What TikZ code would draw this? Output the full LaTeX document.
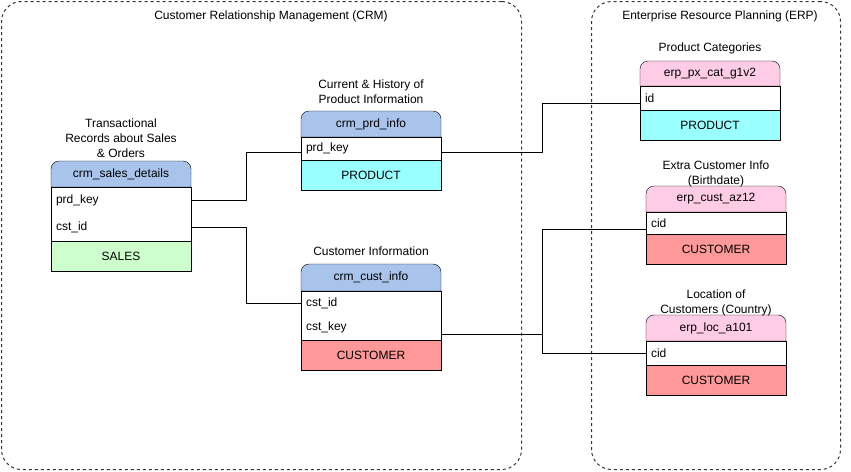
\documentclass[tikz,border=0pt]{standalone}
\usepackage{fontspec}
\setmainfont{Liberation Sans}
\usetikzlibrary{positioning,backgrounds}

\definecolor{hdrblue}{HTML}{A9C4EB}
\definecolor{hdrpink}{HTML}{FFCCE6}
\definecolor{prodcyan}{HTML}{99FFFF}
\definecolor{custred}{HTML}{FF9999}
\definecolor{salesgreen}{HTML}{CCFFCC}

\begin{document}
\begin{tikzpicture}[
        x=1pt, y=-1pt,
        font=\fontsize{12}{15}\selectfont,
        line width=1pt,
        % Estilos de los contenedores
        container/.style={
            draw=black!80,
            dash pattern=on 3pt off 3pt,
            rounded corners=20pt,
            anchor=north west,
            inner sep=0pt
        },
        % Estilos de las tablas
        tbl head/.style={
            minimum width=140pt,
            minimum height=26pt,
            inner sep=0pt,
            outer sep=0pt,
            anchor=north west
        },
        tbl row/.style={
            text width=130pt,
            align=left,
            inner xsep=5pt,
            inner ysep=0pt,
            outer sep=0pt
        },
        tbl foot/.style={
            draw,
            minimum width=140pt,
            minimum height=30pt,
            inner sep=0pt,
            outer sep=0pt
        },
        tbl label/.style={
            align=center,
            inner sep=2pt
        },
        wire/.style={
            draw=black
        }
    ]

    \useasboundingbox (0,0) rectangle (851,471);

    % --- CONTENEDORES ---
    \node[container, minimum width=520pt, minimum height=468pt] (crm) at (1,1) {};
    \node[container, minimum width=249pt, minimum height=468pt] (erp) at (591,1) {};
    \node (crmtitle) at (271,16) {Customer Relationship Management (CRM)};
    \node (erptitle) at (720,16) {Enterprise Resource Planning (ERP)};

    % --- TABLAS CRM ---
    % crm_sales_details
    \node[tbl head] (salesh) at (51,161) {crm\_sales\_details};
    \node[tbl row, minimum height=27pt, below=0pt of salesh] (salesprd) {prd\_key};
    \node[tbl row, minimum height=27pt, below=0pt of salesprd] (salescst) {cst\_id};
    \node[tbl foot, fill=salesgreen, below=0pt of salescst] (salesf) {SALES};
    \node[tbl label, above=1pt of salesh] (saleslbl) {Transactional\\Records about Sales\\\& Orders};

    % crm_prd_info
    \node[tbl head] (prdh) at (301,111) {crm\_prd\_info};
    \node[tbl row, minimum height=23pt, below=0pt of prdh] (prdkey) {prd\_key};
    \node[tbl foot, fill=prodcyan, below=0pt of prdkey] (prdf) {PRODUCT};
    \node[tbl label, above=5pt of prdh] (prdlbl) {Current \& History of\\Product Information};

    % crm_cust_info
    \node[tbl head, minimum height=27pt] (custh) at (301,264) {crm\_cust\_info};
    \node[tbl row, minimum height=24.5pt, below=0pt of custh] (custid) {cst\_id};
    \node[tbl row, minimum height=24.5pt, below=0pt of custid] (custkey) {cst\_key};
    \node[tbl foot, fill=custred, below=0pt of custkey] (custf) {CUSTOMER};
    \node[tbl label, above=6pt of custh] (custlbl) {Customer Information};

    % --- TABLAS ERP ---
    % erp_px_cat_g1v2
    \node[tbl head, minimum height=25pt] (pxh) at (640,61) {erp\_px\_cat\_g1v2};
    \node[tbl row, minimum height=24pt, below=0pt of pxh] (pxid) {id};
    \node[tbl foot, fill=prodcyan, below=0pt of pxid] (pxf) {PRODUCT};
    \node[tbl label, above=5pt of pxh] (pxlbl) {Product Categories};

    % erp_cust_az12
    \node[tbl head] (azh) at (646,186) {erp\_cust\_az12};
    \node[tbl row, minimum height=22pt, below=0pt of azh] (azcid) {cid};
    \node[tbl foot, fill=custred, below=0pt of azcid] (azf) {CUSTOMER};
    \node[tbl label, above=-3pt of azh] (azlbl) {Extra Customer Info\\(Birthdate)};

    % erp_loc_a101
    \node[tbl head] (loch) at (646,315) {erp\_loc\_a101};
    \node[tbl row, minimum height=24pt, below=0pt of loch] (loccid) {cid};
    \node[tbl foot, fill=custred, below=0pt of loccid] (locf) {CUSTOMER};
    \node[tbl label, above=-3pt of loch] (loclbl) {Location of\\Customers (Country)};

    % --- CUERPOS Y CABECERAS ---
    \foreach \a/\b in {salesprd/salescst, prdkey/prdkey, custid/custkey, pxid/pxid, azcid/azcid, loccid/loccid}
        \draw (\a.north west) rectangle (\b.south east);

    \begin{scope}[on background layer]
        \foreach \h/\c in {salesh/hdrblue, prdh/hdrblue, custh/hdrblue, pxh/hdrpink, azh/hdrpink, loch/hdrpink}
            \filldraw[fill=\c] (\h.south west) [rounded corners=8pt] -- (\h.north west) -- (\h.north east) [sharp corners] -- (\h.south east) -- cycle;
    \end{scope}

    % --- RELACIONES ---
    \draw[wire] (salesprd.east) -- ++(55,0) |- ([yshift=-4pt]prdkey.west);
    \draw[wire] (salescst.east) -- ++(55,0) |- (custid.west);
    \draw[wire] ([yshift=-4pt]prdkey.east) -- ++(101,0) |- ([yshift=-5pt]pxid.west);
    \draw[wire] ([yshift=-7pt]custkey.east) -- ++(101,0) |- ([yshift=-6pt]azcid.west);
    \draw[wire] ([yshift=-7pt]custkey.east) -- ++(101,0) |- (loccid.west);

\end{tikzpicture}
\end{document}
